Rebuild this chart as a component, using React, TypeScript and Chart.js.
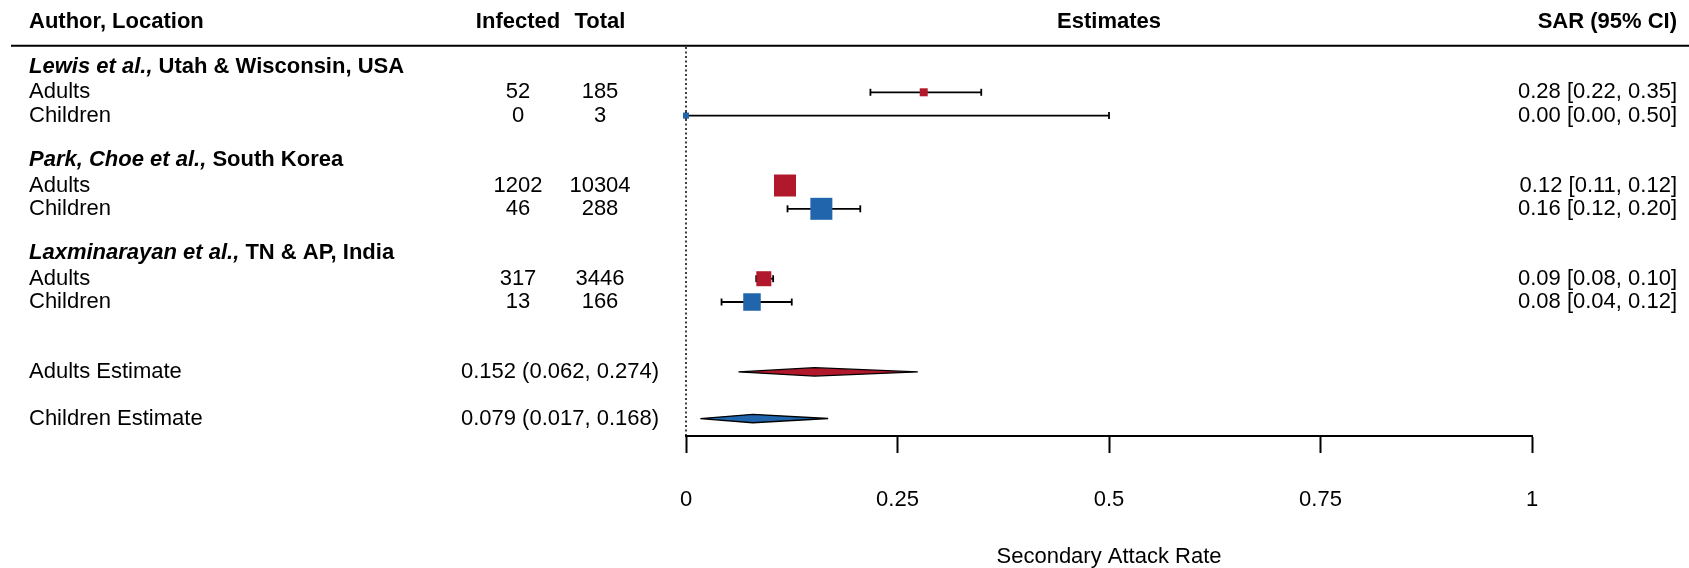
import React, { useEffect, useRef } from "react";
import { Chart, registerables } from "chart.js";

Chart.register(...registerables);

// ---------------- data ----------------
const STUDIES = ["Lewis et al.,", "Park, Choe et al.,", "Laxminarayan et al.,"];
const LOCATIONS = [" Utah & Wisconsin, USA", " South Korea", " TN & AP, India"];
const GROUPS = ["Adults", "Children", "Adults", "Children", "Adults", "Children"];
const INFECTED = [52, 0, 1202, 46, 317, 13];
const TOTAL = [185, 3, 10304, 288, 3446, 166];
const SAR = [0.281, 0.0, 0.117, 0.16, 0.092, 0.078];
const SAR_LO = [0.218, 0.0, 0.11, 0.12, 0.083, 0.042];
const SAR_HI = [0.349, 0.5, 0.123, 0.206, 0.103, 0.125];
const SAR_LABELS = [
  "0.28 [0.22, 0.35]",
  "0.00 [0.00, 0.50]",
  "0.12 [0.11, 0.12]",
  "0.16 [0.12, 0.20]",
  "0.09 [0.08, 0.10]",
  "0.08 [0.04, 0.12]",
];
const POOLED_NAMES = ["Adults Estimate", "Children Estimate"];
const POOLED = [0.152, 0.079];
const POOLED_LO = [0.062, 0.017];
const POOLED_HI = [0.274, 0.168];
const POOLED_LABELS = ["0.152 (0.062, 0.274)", "0.079 (0.017, 0.168)"];
const X_TICKS = [0, 0.25, 0.5, 0.75, 1];
const X_TICK_LABELS = ["0", "0.25", "0.5", "0.75", "1"];
const COLUMN_HEADERS = ["Author, Location", "Infected", "Total", "Estimates", "SAR (95% CI)"];
const X_TITLE = "Secondary Attack Rate";

// ---------------- layout / style ----------------
const W = 1689;
const H = 568;
const FONT = '"Liberation Sans", Arial, sans-serif';
const FS = 22;
const RED = "#B2182B";
const BLUE = "#2166AC";
const GROUP_COLORS = [RED, BLUE];
const STUDY_ROWS = [14, 13, 10, 9, 6, 5];
const HEADER_ROWS = [15.1, 11.1, 7.1];
const POOLED_ROWS = [2, 0];
const COL_HEAD_ROW = 17.0;
const Y_MIN = -0.75;
const Y_MAX = 16;
const SQUARE_SIDE = [8, 6, 22, 22, 15, 17.5];
const PLOT_LEFT = 686;
const PLOT_RIGHT = 1532;
const PLOT_TOP = 45.7;
const AXIS_Y = 436;
const LABEL_X = 29;
const INFECTED_X = 518;
const TOTAL_X = 600;
const SAR_RIGHT_X = 1677;
const POOLED_LABEL_X = 560;
const HEADER_LINE_X0 = 11;
const DIAMOND_HALF_H = 4.2;

const forestText = {
  id: "forestText",
  afterDatasetsDraw(chart: any) {
    const { ctx, scales } = chart;
    const x = scales.x;
    const y = scales.y;
    ctx.save();
    // summary diamonds
    POOLED.forEach((v, i) => {
      const py = y.getPixelForValue(POOLED_ROWS[i]);
      const pl = x.getPixelForValue(POOLED_LO[i]);
      const pc = x.getPixelForValue(v);
      const ph = x.getPixelForValue(POOLED_HI[i]);
      ctx.beginPath();
      ctx.moveTo(pl, py);
      ctx.lineTo(pc, py - DIAMOND_HALF_H);
      ctx.lineTo(ph, py);
      ctx.lineTo(pc, py + DIAMOND_HALF_H);
      ctx.closePath();
      ctx.fillStyle = GROUP_COLORS[i];
      ctx.fill();
      ctx.lineWidth = 1.3;
      ctx.strokeStyle = "#000";
      ctx.stroke();
    });
    ctx.restore();
  },
  afterDraw(chart: any) {
    const { ctx, chartArea, scales } = chart;
    const x = scales.x;
    const y = scales.y;
    ctx.save();
    ctx.strokeStyle = "#000";
    ctx.lineWidth = 2;
    ctx.beginPath();
    ctx.moveTo(HEADER_LINE_X0, chartArea.top);
    ctx.lineTo(W, chartArea.top);
    ctx.stroke();

    ctx.fillStyle = "#000";
    ctx.textBaseline = "middle";
    const bold = `bold ${FS}px ${FONT}`;
    const boldItalic = `italic bold ${FS}px ${FONT}`;
    const regular = `${FS}px ${FONT}`;

    const hy = y.getPixelForValue(COL_HEAD_ROW);
    ctx.font = bold;
    ctx.textAlign = "left";
    ctx.fillText(COLUMN_HEADERS[0], LABEL_X, hy);
    ctx.textAlign = "center";
    ctx.fillText(COLUMN_HEADERS[1], INFECTED_X, hy);
    ctx.fillText(COLUMN_HEADERS[2], TOTAL_X, hy);
    ctx.fillText(COLUMN_HEADERS[3], (x.left + x.right) / 2, hy);
    ctx.textAlign = "right";
    ctx.fillText(COLUMN_HEADERS[4], SAR_RIGHT_X, hy);

    STUDIES.forEach((s, i) => {
      const py = y.getPixelForValue(HEADER_ROWS[i]);
      ctx.textAlign = "left";
      ctx.font = boldItalic;
      ctx.fillText(s, LABEL_X, py);
      const w = ctx.measureText(s).width;
      ctx.font = bold;
      ctx.fillText(LOCATIONS[i], LABEL_X + w, py);
    });

    ctx.font = regular;
    GROUPS.forEach((g, i) => {
      const py = y.getPixelForValue(STUDY_ROWS[i]);
      ctx.textAlign = "left";
      ctx.fillText(g, LABEL_X, py);
      ctx.textAlign = "center";
      ctx.fillText(String(INFECTED[i]), INFECTED_X, py);
      ctx.fillText(String(TOTAL[i]), TOTAL_X, py);
      ctx.textAlign = "right";
      ctx.fillText(SAR_LABELS[i], SAR_RIGHT_X, py);
    });

    POOLED_NAMES.forEach((n, i) => {
      const py = y.getPixelForValue(POOLED_ROWS[i]);
      ctx.textAlign = "left";
      ctx.fillText(n, LABEL_X, py);
      ctx.textAlign = "center";
      ctx.fillText(POOLED_LABELS[i], POOLED_LABEL_X, py);
    });
    ctx.restore();
  },
};

export default function App() {
  const ref = useRef<HTMLCanvasElement>(null);
  useEffect(() => {
    if (!ref.current) return;
    const squares: any = {
      type: "scatter",
      data: SAR.map((v, i) => ({ x: v, y: STUDY_ROWS[i] })),
      pointStyle: "rect",
      pointRadius: SQUARE_SIDE.map((s) => s / Math.SQRT2),
      pointBackgroundColor: SAR.map((_, i) => GROUP_COLORS[i % 2]),
      pointBorderWidth: 0,
      showLine: false,
      order: 0,
      clip: false,
    };
    const whiskers: any[] = SAR.map((_, i) => ({
      type: "line",
      data: [
        { x: SAR_LO[i], y: STUDY_ROWS[i] },
        { x: SAR_HI[i], y: STUDY_ROWS[i] },
      ],
      borderColor: "#000",
      borderWidth: 1.8,
      pointStyle: "line",
      pointRotation: 90,
      pointRadius: 3.5,
      pointBorderColor: "#000",
      pointBorderWidth: 1.8,
      order: 1,
      clip: false,
    }));
    const zeroLine: any = {
      type: "line",
      data: [
        { x: 0, y: Y_MIN },
        { x: 0, y: Y_MAX },
      ],
      borderColor: "#000",
      borderWidth: 1.5,
      borderDash: [2, 2.5],
      pointRadius: 0,
      order: 2,
      clip: false,
    };
    const chart = new Chart(ref.current, {
      type: "scatter",
      data: { datasets: [squares, ...whiskers, zeroLine] },
      options: {
        animation: false,
        responsive: false,
        devicePixelRatio: 1,
        events: [],
        layout: {
          padding: { left: PLOT_LEFT, right: W - PLOT_RIGHT, top: PLOT_TOP, bottom: 0 },
        },
        plugins: { legend: { display: false }, tooltip: { enabled: false } },
        scales: {
          x: {
            type: "linear",
            position: "bottom",
            min: 0,
            max: 1,
            afterBuildTicks: (s: any) => {
              s.ticks = X_TICKS.map((v) => ({ value: v }));
            },
            afterFit: (s: any) => {
              s.height = H - AXIS_Y;
            },
            ticks: {
              callback: (_v: any, i: number) => X_TICK_LABELS[i],
              color: "#000",
              font: { size: FS, family: FONT },
              padding: 34,
              maxRotation: 0,
              autoSkip: false,
            },
            grid: {
              drawOnChartArea: false,
              drawTicks: true,
              tickLength: 17,
              tickWidth: 2,
              tickColor: "#000",
            },
            border: { display: true, color: "#000", width: 2 },
            title: {
              display: true,
              text: X_TITLE,
              color: "#000",
              font: { size: FS, family: FONT, lineHeight: 1 },
              padding: { top: 0, bottom: 0 },
            },
          },
          y: { type: "linear", min: Y_MIN, max: Y_MAX, display: false },
        },
      } as any,
      plugins: [forestText],
    } as any);
    return () => chart.destroy();
  }, []);
  return (
    <div style={{ position: "absolute", left: 0, top: 0, width: W, height: H, background: "#fff" }}>
      <canvas ref={ref} width={W} height={H} style={{ display: "block", width: W, height: H }} />
    </div>
  );
}
